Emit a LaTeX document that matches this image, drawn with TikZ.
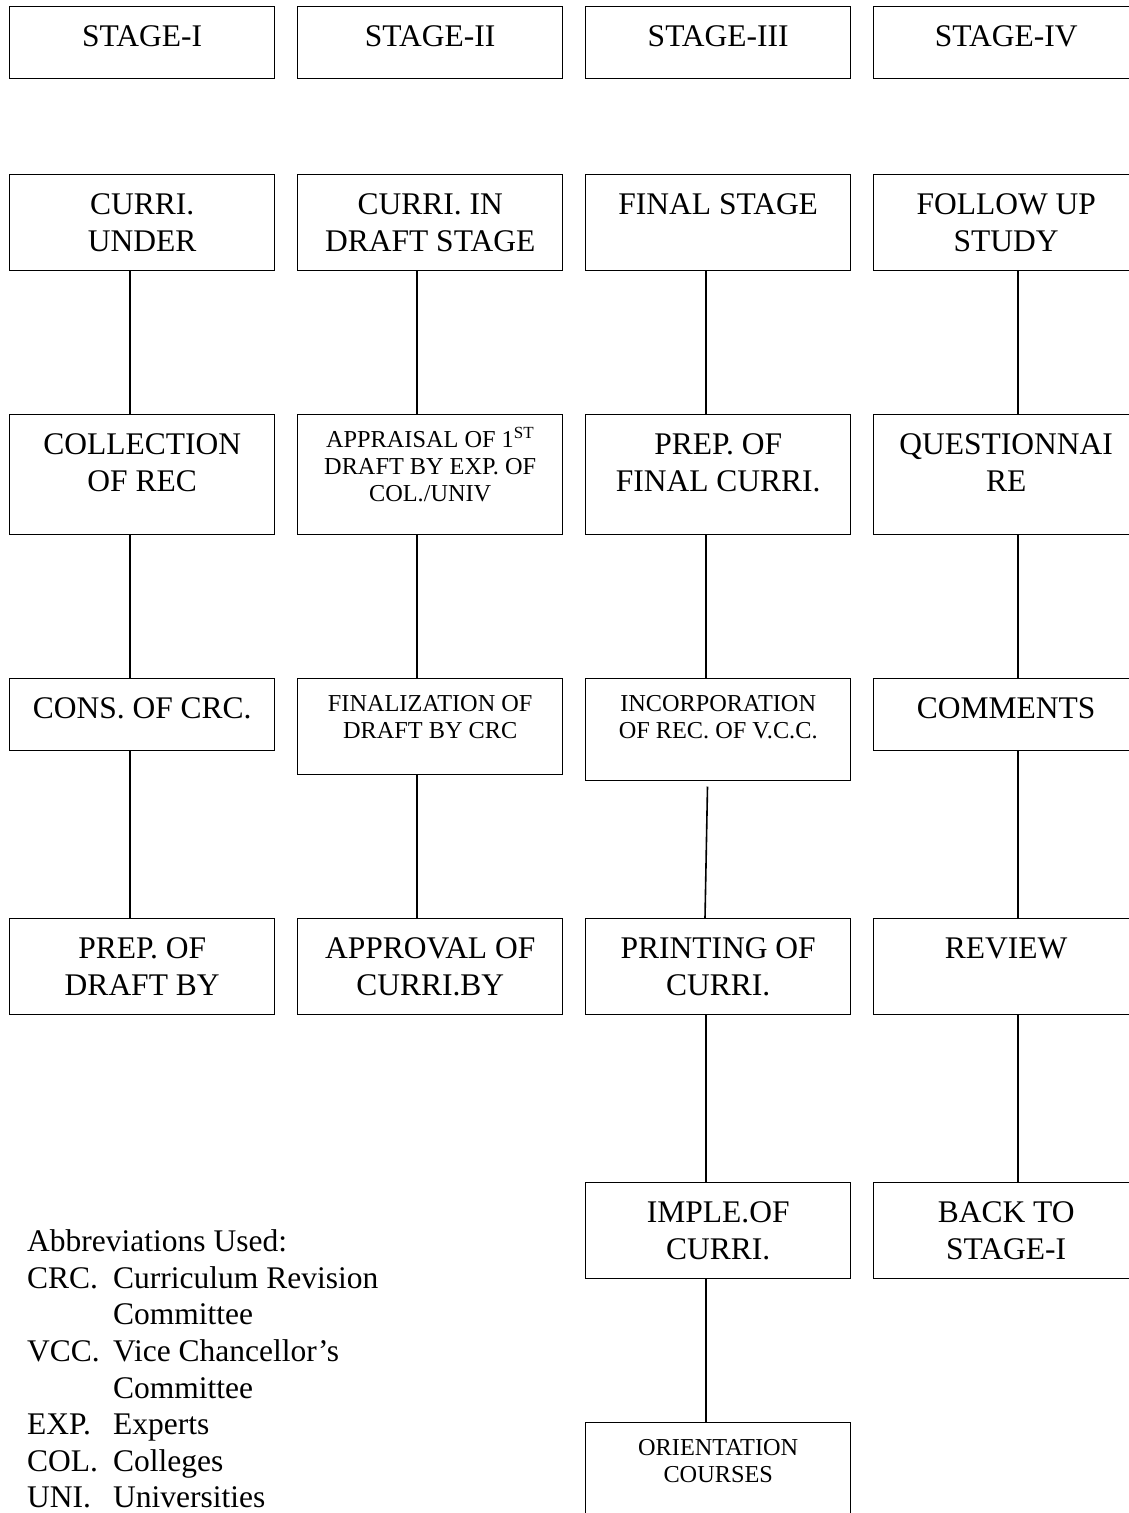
\documentclass[tikz,border=0pt]{standalone}
\usepackage{fontspec}
\setmainfont{Liberation Serif}
\newcommand{\BoxL}[2]{\begin{minipage}[c][#1pt][t]{265pt}\centering\fontsize{31.5}{37}\selectfont\rule{0pt}{40pt}#2\end{minipage}}
\newcommand{\BoxS}[2]{\begin{minipage}[c][#1pt][t]{265pt}\centering\fontsize{24.3}{27}\selectfont\rule{0pt}{33pt}#2\end{minipage}}
\begin{document}
\begin{tikzpicture}[x=1pt,y=-1pt,
  box/.style={draw, line width=1.4pt, inner sep=0pt, anchor=north west, rectangle},
  conn/.style={line width=1.6pt}]
\useasboundingbox (0,0) rectangle (1128,1513);
% row 1
\node[box] (s1) at (9,6)   {\BoxL{72}{STAGE-I}};
\node[box] (s2) at (297,6) {\BoxL{72}{STAGE-II}};
\node[box] (s3) at (585,6) {\BoxL{72}{STAGE-III}};
\node[box] (s4) at (873,6) {\BoxL{72}{STAGE-IV}};
% row 2
\node[box] (a1) at (9,174)   {\BoxL{96}{CURRI.\\UNDER}};
\node[box] (a2) at (297,174) {\BoxL{96}{CURRI. IN\\DRAFT STAGE}};
\node[box] (a3) at (585,174) {\BoxL{96}{FINAL STAGE}};
\node[box] (a4) at (873,174) {\BoxL{96}{FOLLOW UP\\STUDY}};
% row 3
\node[box] (b1) at (9,414)   {\BoxL{120}{COLLECTION\\OF REC}};
\node[box] (b2) at (297,414) {\BoxS{120}{APPRAISAL OF 1\textsuperscript{ST}\\DRAFT BY EXP. OF\\COL./UNIV}};
\node[box] (b3) at (585,414) {\BoxL{120}{PREP. OF\\FINAL CURRI.}};
\node[box] (b4) at (873,414) {\BoxL{120}{QUESTIONNAI\\RE}};
% row 4
\node[box] (c1) at (9,678)   {\BoxL{72}{CONS. OF CRC.}};
\node[box] (c2) at (297,678) {\BoxS{96}{FINALIZATION OF\\DRAFT BY CRC}};
\node[box] (c3) at (585,678) {\BoxS{102}{INCORPORATION\\OF REC. OF V.C.C.}};
\node[box] (c4) at (873,678) {\BoxL{72}{COMMENTS}};
% row 5
\node[box] (d1) at (9,918)   {\BoxL{96}{PREP. OF\\DRAFT BY}};
\node[box] (d2) at (297,918) {\BoxL{96}{APPROVAL OF\\CURRI.BY}};
\node[box] (d3) at (585,918) {\BoxL{96}{PRINTING OF\\CURRI.}};
\node[box] (d4) at (873,918) {\BoxL{96}{REVIEW}};
% row 6
\node[box] (e3) at (585,1182) {\BoxL{96}{IMPLE.OF\\CURRI.}};
\node[box] (e4) at (873,1182) {\BoxL{96}{BACK TO\\STAGE-I}};
% row 7
\node[box] (f3) at (585,1422) {\BoxS{130}{ORIENTATION\\COURSES}};
% connector x positions
\coordinate (x1) at (130,0);
\coordinate (x2) at (417,0);
\coordinate (x3) at (706,0);
\coordinate (x4) at (1018,0);
\coordinate (x3b) at (705,0);
\coordinate (c3out) at (707.5,786.5);
% column 1
\draw[conn] (a1.south -| x1) -- (b1.north -| x1);
\draw[conn] (b1.south -| x1) -- (c1.north -| x1);
\draw[conn] (c1.south -| x1) -- (d1.north -| x1);
% column 2
\draw[conn] (a2.south -| x2) -- (b2.north -| x2);
\draw[conn] (b2.south -| x2) -- (c2.north -| x2);
\draw[conn] (c2.south -| x2) -- (d2.north -| x2);
% column 3
\draw[conn] (a3.south -| x3) -- (b3.north -| x3);
\draw[conn] (b3.south -| x3) -- (c3.north -| x3);
\draw[conn] (c3out) -- (d3.north -| x3b);
\draw[conn] (d3.south -| x3) -- (e3.north -| x3);
\draw[conn] (e3.south -| x3) -- (f3.north -| x3);
% column 4
\draw[conn] (a4.south -| x4) -- (b4.north -| x4);
\draw[conn] (b4.south -| x4) -- (c4.north -| x4);
\draw[conn] (c4.south -| x4) -- (d4.north -| x4);
\draw[conn] (d4.south -| x4) -- (e4.north -| x4);
% abbreviations
\node[anchor=base west, inner sep=0pt] (abbr) at (27,1251.7) {\fontsize{31.5}{36.6}\selectfont
\begin{tabular}[t]{@{}p{86pt}@{}l@{}}
\multicolumn{2}{@{}l@{}}{Abbreviations Used:}\\
CRC. & Curriculum Revision\\
 & Committee\\
VCC. & Vice Chancellor’s\\
 & Committee\\
EXP. & Experts\\
COL. & Colleges\\
UNI. & Universities
\end{tabular}};
\end{tikzpicture}
\end{document}
